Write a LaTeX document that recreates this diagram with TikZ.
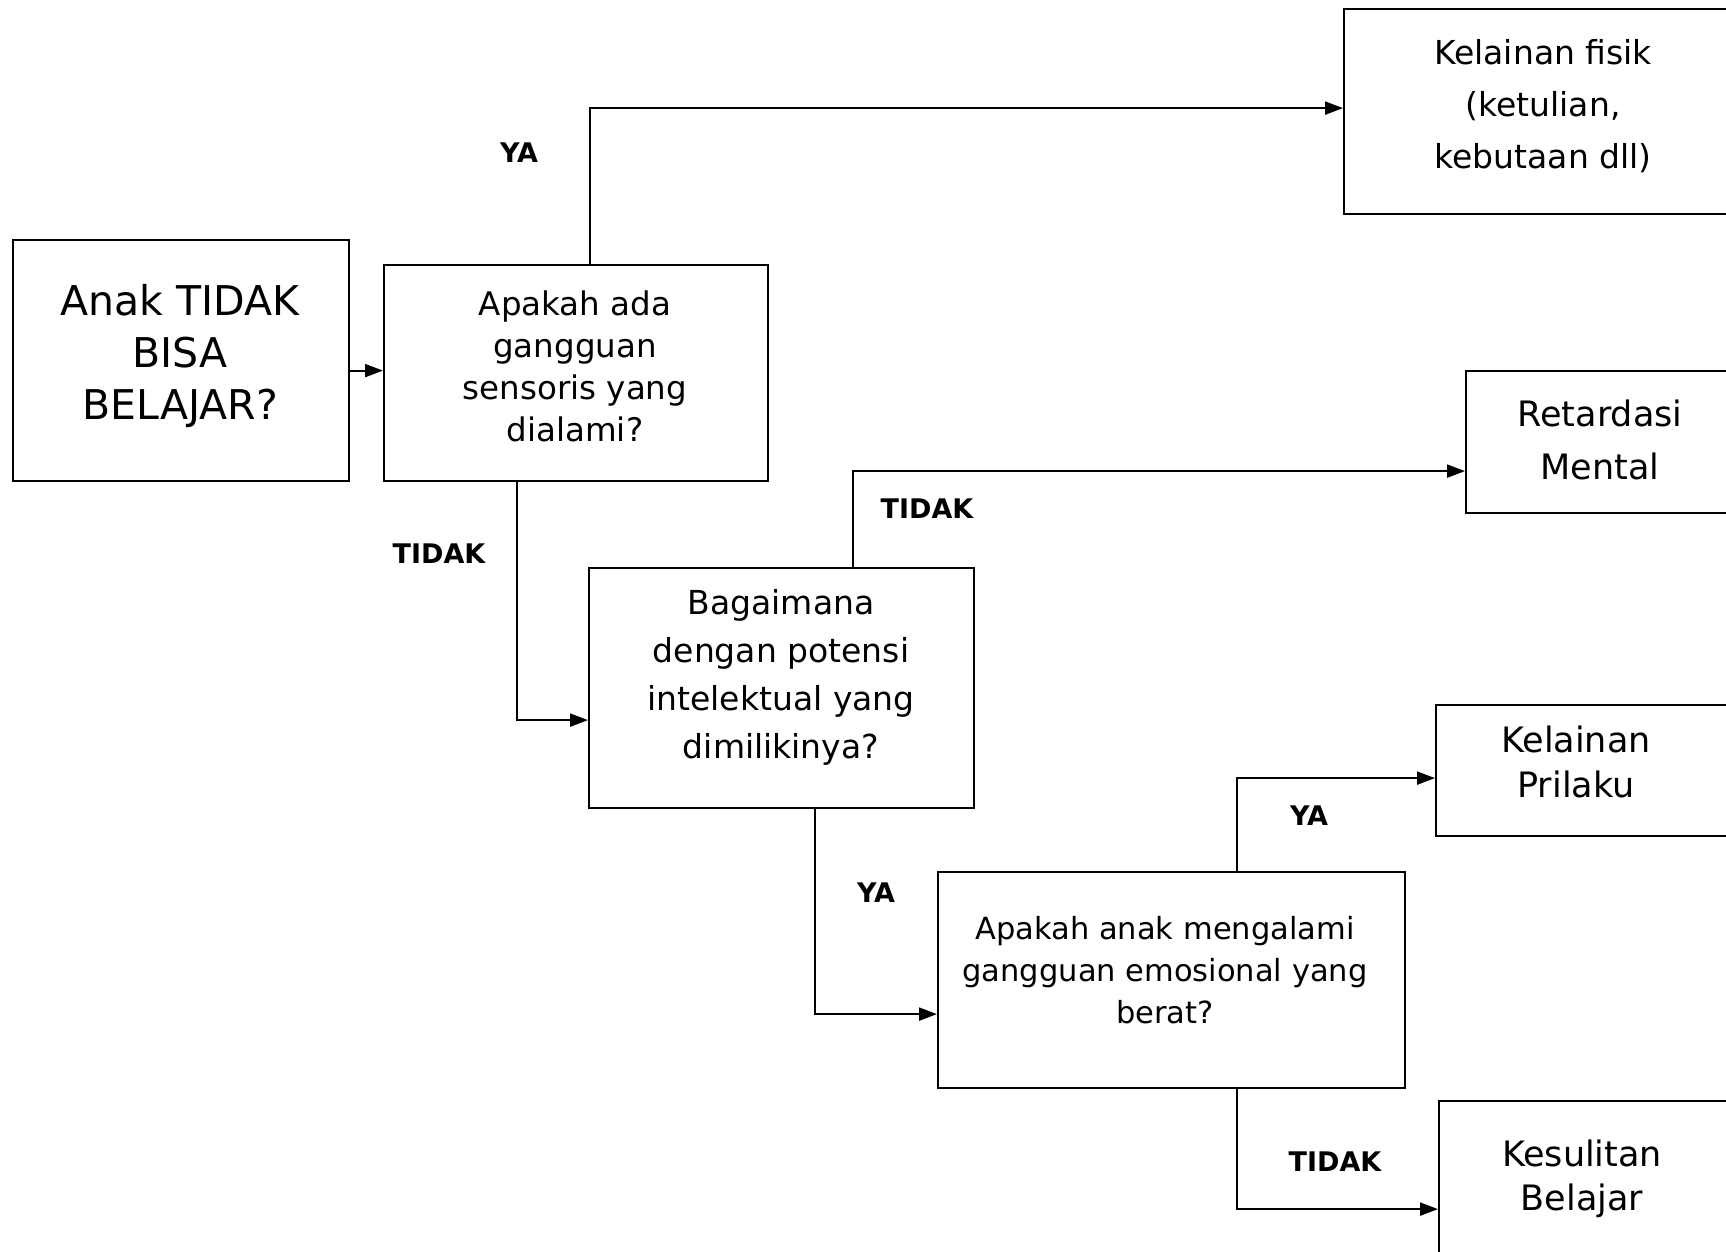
\documentclass[tikz,border=0pt]{standalone}
\usepackage{fontspec}
\setmainfont{DejaVu Sans}
\usetikzlibrary{arrows.meta}
\begin{document}
\begin{tikzpicture}[x=1pt,y=-1pt,
  box/.style={draw, line width=2.2pt, inner sep=0pt, anchor=north west},
  conn/.style={line width=2.2pt, -{Triangle[length=18pt,width=13pt]}},
  lbl/.style={font=\fontsize{27}{32}\selectfont\bfseries, inner sep=0pt},
  txt/.style={align=center, inner sep=0pt},
]
\useasboundingbox (0,0) rectangle (1726,1251);
\clip (0,0) rectangle (1726,1251);
% boxes
\node[box, minimum width=336pt, minimum height=241pt] (A) at (12,239) {};
\node[box, minimum width=384pt, minimum height=216pt] (B) at (383,264) {};
\node[box, minimum width=420pt, minimum height=205pt] (C) at (1343,8) {};
\node[box, minimum width=300pt, minimum height=142pt] (D) at (1465,370) {};
\node[box, minimum width=385pt, minimum height=240pt] (E) at (588,567) {};
\node[box, minimum width=467pt, minimum height=216pt] (F) at (937,871) {};
\node[box, minimum width=330pt, minimum height=131pt] (G) at (1435,704) {};
\node[box, minimum width=330pt, minimum height=200pt] (H) at (1438,1100) {};
% texts
\node[txt, font=\fontsize{41}{52}\selectfont] (tA) at (180,356) {Anak TIDAK\\BISA\\BELAJAR?};
\node[txt, font=\fontsize{32.5}{42}\selectfont] (tB) at (575,366) {Apakah ada\\gangguan\\sensoris yang\\dialami?};
\node[txt, font=\fontsize{33}{52}\selectfont] (tC) at (1543,106) {Kelainan fisik\\(ketulian,\\kebutaan dll)};
\node[txt, font=\fontsize{35}{53}\selectfont] (tD) at (1600,440) {Retardasi\\Mental};
\node[txt, font=\fontsize{33}{48}\selectfont] (tE) at (781,677) {Bagaimana\\dengan potensi\\intelektual yang\\dimilikinya?};
\node[txt, font=\fontsize{30.5}{42}\selectfont] (tF) at (1165,970) {Apakah anak mengalami\\gangguan emosional yang\\berat?};
\node[txt, font=\fontsize{35}{45}\selectfont] (tG) at (1576,762) {Kelainan\\Prilaku};
\node[txt, font=\fontsize{35}{44}\selectfont] (tH) at (1582,1179) {Kesulitan\\Belajar};
% labels
\node[lbl] (l1) at (519,153) {YA};
\node[lbl] (l2) at (439,554) {TIDAK};
\node[lbl] (l3) at (927,509) {TIDAK};
\node[lbl] (l4) at (876,893) {YA};
\node[lbl] (l5) at (1309,816) {YA};
\node[lbl] (l6) at (1335,1162) {TIDAK};
% connectors
\draw[conn] ([yshift=-10pt]A.east) -- ([yshift=-10pt]A.east -| B.west);
\draw[conn] ([xshift=14pt]B.north) |- ([yshift=3.5pt]C.west);
\draw[conn] ([xshift=-59pt]B.south) |- ([yshift=-32pt]E.west);
\draw[conn] ([xshift=71.5pt]E.north) |- ([yshift=-29pt]D.west);
\draw[conn] ([xshift=33.5pt]E.south) |- ([yshift=-34pt]F.west);
\draw[conn] ([xshift=65.5pt]F.north) |- ([yshift=-7.5pt]G.west);
\draw[conn] ([xshift=65.5pt]F.south) |- ([yshift=-8pt]H.west);
\end{tikzpicture}
\end{document}
